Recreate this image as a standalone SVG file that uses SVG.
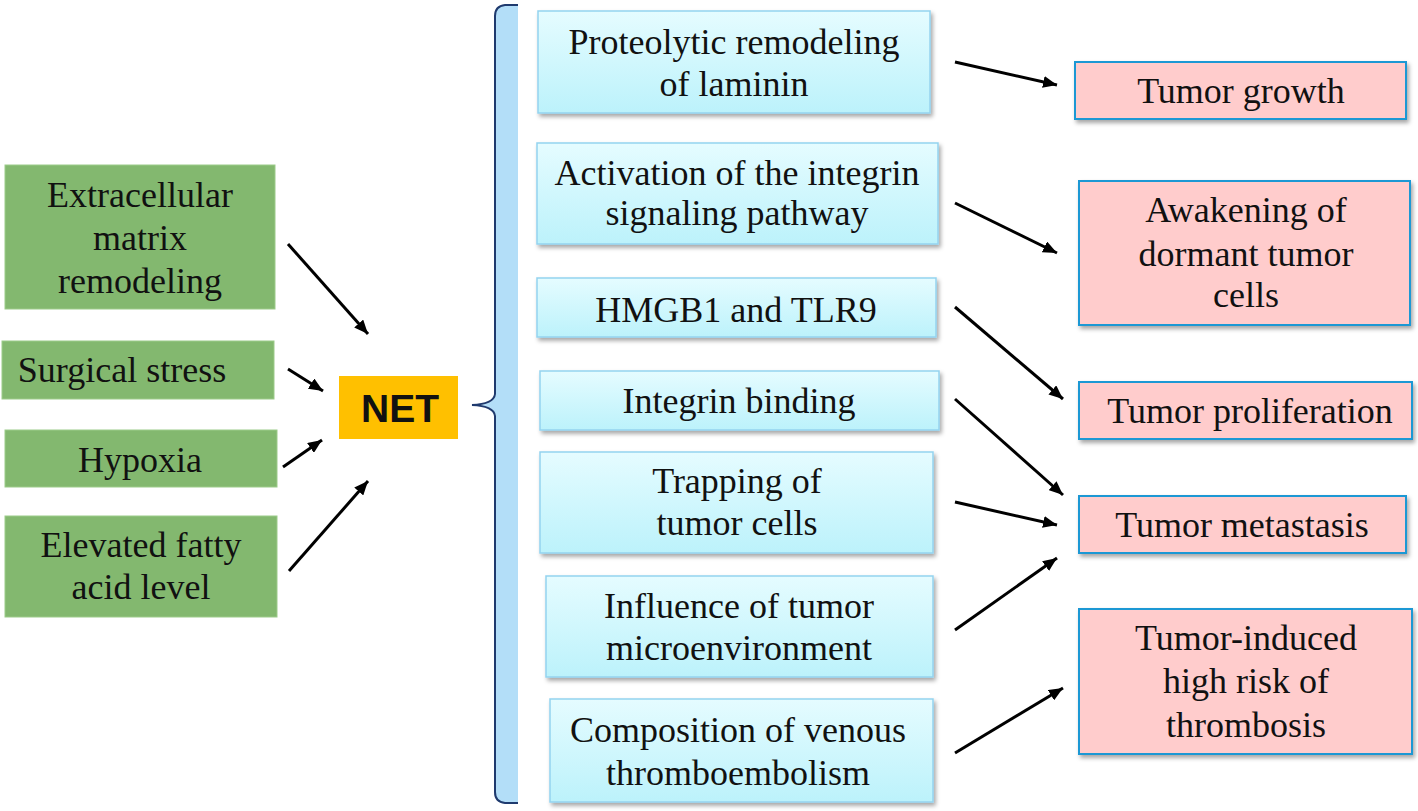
<svg xmlns="http://www.w3.org/2000/svg" width="1418" height="811" viewBox="0 0 1418 811">
<style>
.t{font-family:"Liberation Serif","Times New Roman",serif;font-size:36px;fill:#111;text-anchor:middle}
.g{fill:#83B86F;stroke:#9CCB8A;stroke-width:1}
.c{fill:url(#cg);stroke:#94D3EF;stroke-width:1.5;filter:url(#sh)}
.p{fill:#FFCCCC;stroke:#1E98D4;stroke-width:2;filter:url(#sh)}
.a{stroke:#000;stroke-width:3;fill:none;marker-end:url(#ah)}
</style>
<defs>
<linearGradient id="cg" x1="0" y1="0" x2="0" y2="1">
<stop offset="0" stop-color="#E5FCFF"/>
<stop offset="1" stop-color="#BCF2FB"/>
</linearGradient>
<filter id="sh" x="-5%" y="-10%" width="115%" height="130%">
<feDropShadow dx="2" dy="3" stdDeviation="2" flood-color="#000" flood-opacity="0.35"/>
</filter>
<marker id="ah" markerUnits="userSpaceOnUse" markerWidth="14" markerHeight="12" refX="14" refY="6" orient="auto">
<path d="M0,0 L14,6 L0,12 z" fill="#000"/>
</marker>
</defs>
<rect width="1418" height="811" fill="#fff"/>

<g id="brace">
<path d="M518,5 L505,5 Q495,6 495,16 L495,394 Q494,404 478,405 Q494,406 495,416 L495,792 Q495,802 505,803 L518,803 Z" fill="#B3DEF8"/>
<path d="M518,5 L505,5 Q495,6 495,16 L495,394 Q494,404 472,405 Q494,406 495,416 L495,792 Q495,802 505,803 L518,803" fill="none" stroke="#1F3A6E" stroke-width="2"/>
</g>

<g id="n-ecm"><rect class="g" x="5" y="165" width="270" height="144"/>
<text class="t" x="140" y="207">Extracellular</text><text class="t" x="140" y="250">matrix</text><text class="t" x="140" y="293">remodeling</text></g>
<g id="n-surgical"><rect class="g" x="2" y="341" width="272" height="58"/>
<text class="t" x="122" y="382">Surgical stress</text></g>
<g id="n-hypoxia"><rect class="g" x="5" y="430" width="272" height="57"/>
<text class="t" x="140" y="472">Hypoxia</text></g>
<g id="n-fatty"><rect class="g" x="5" y="516" width="272" height="101"/>
<text class="t" x="141" y="557">Elevated fatty</text><text class="t" x="141" y="599">acid level</text></g>

<g id="n-net"><rect x="339" y="376" width="119" height="63" fill="#FFC000"/>
<text x="400" y="422" font-family="'Liberation Sans',Arial,sans-serif" font-weight="bold" font-size="39" text-anchor="middle" fill="#111">NET</text></g>

<g id="n-laminin"><rect class="c" x="538" y="11" width="392" height="102"/>
<text class="t" x="734" y="54">Proteolytic remodeling</text><text class="t" x="734" y="96">of laminin</text></g>
<g id="n-integrin-path"><rect class="c" x="537" y="143" width="401" height="101"/>
<text class="t" x="737" y="185">Activation of the integrin</text><text class="t" x="737" y="225">signaling pathway</text></g>
<g id="n-hmgb1"><rect class="c" x="537" y="278" width="399" height="59"/>
<text class="t" x="736" y="322">HMGB1 and TLR9</text></g>
<g id="n-integrin-bind"><rect class="c" x="540" y="371" width="399" height="59"/>
<text class="t" x="739" y="413">Integrin binding</text></g>
<g id="n-trapping"><rect class="c" x="540" y="452" width="393" height="101"/>
<text class="t" x="737" y="493">Trapping of</text><text class="t" x="737" y="535">tumor cells</text></g>
<g id="n-microenv"><rect class="c" x="546" y="576" width="387" height="101"/>
<text class="t" x="739" y="618">Influence of tumor</text><text class="t" x="739" y="660">microenvironment</text></g>
<g id="n-vte"><rect class="c" x="550" y="699" width="383" height="103"/>
<text class="t" x="738" y="742">Composition of venous</text><text class="t" x="738" y="785">thromboembolism</text></g>

<g id="n-growth"><rect class="p" x="1075" y="62" width="331" height="57"/>
<text class="t" x="1241" y="103">Tumor growth</text></g>
<g id="n-dormant"><rect class="p" x="1079" y="181" width="331" height="144"/>
<text class="t" x="1246" y="222">Awakening of</text><text class="t" x="1246" y="266">dormant tumor</text><text class="t" x="1246" y="307">cells</text></g>
<g id="n-prolif"><rect class="p" x="1079" y="382" width="333" height="57"/>
<text class="t" x="1250" y="423">Tumor proliferation</text></g>
<g id="n-metastasis"><rect class="p" x="1079" y="496" width="327" height="57"/>
<text class="t" x="1242" y="537">Tumor metastasis</text></g>
<g id="n-thrombosis"><rect class="p" x="1079" y="609" width="333" height="145"/>
<text class="t" x="1246" y="650">Tumor-induced</text><text class="t" x="1246" y="693">high risk of</text><text class="t" x="1246" y="737">thrombosis</text></g>

<g id="connectors">
<line class="a" x1="288" y1="244" x2="368" y2="334"/>
<line class="a" x1="288" y1="369" x2="323" y2="391"/>
<line class="a" x1="283" y1="467" x2="322" y2="440"/>
<line class="a" x1="289" y1="571" x2="368" y2="481"/>
<line class="a" x1="955" y1="62" x2="1057" y2="85"/>
<line class="a" x1="955" y1="203" x2="1057" y2="253"/>
<line class="a" x1="955" y1="307" x2="1063" y2="399"/>
<line class="a" x1="955" y1="399" x2="1063" y2="495"/>
<line class="a" x1="955" y1="502" x2="1057" y2="525"/>
<line class="a" x1="955" y1="630" x2="1057" y2="558"/>
<line class="a" x1="955" y1="753" x2="1063" y2="688"/>
</g>
</svg>
